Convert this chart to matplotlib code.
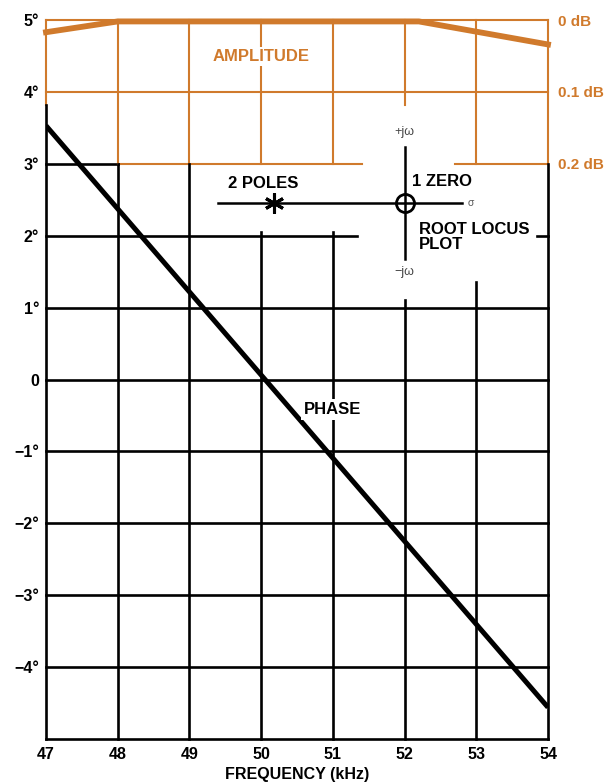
import matplotlib
matplotlib.use('Agg')
import matplotlib.pyplot as plt
import numpy as np

plt.rcParams['font.family'] = ['Liberation Sans', 'DejaVu Sans']

ORANGE = '#d07a2c'

#values
freq_ticks = [47, 48, 49, 50, 51, 52, 53, 54]
deg_ticks = [5, 4, 3, 2, 1, 0, -1, -2, -3, -4]
deg_labels = ['5°', '4°', '3°', '2°', '1°', '0', '\u22121°', '\u22122°', '\u22123°', '\u22124°']
db_ticks = [0, 0.1, 0.2]
db_labels = ['0 dB', '0.1 dB', '0.2 dB']

phase_freq = [47, 54]
phase_deg = [3.53, -4.56]

amp_freq = [47, 48, 52.2, 54]
amp_db = [0.017, 0.002, 0.002, 0.034]

pole_freq, zero_freq, sigma_deg = 50.18, 52.0, 2.46

fig = plt.figure(figsize=(6.1, 7.83), dpi=100)
ax = fig.add_axes([46/610, 1-739/783, 502/610, 719/783])
ax.set_xlim(47, 54)
ax.set_ylim(-5, 5)
for s in ax.spines.values():
    s.set_visible(False)

lw_k, lw_o = 1.9, 1.5
# horizontal grid (partly hidden behind the root locus sketch)
hsegs_o = [(5, 47, 54), (4, 47, 54), (3, 48, 51.4), (3, 52.7, 54)]
hsegs_k = [(3, 47, 48), (2, 47, 51.33), (2, 53.85, 54)] + [(d, 47, 54) for d in [1, 0, -1, -2, -3, -4, -5]]
for y, x0, x1 in hsegs_o:
    ax.plot([x0, x1], [y, y], color=ORANGE, lw=lw_o, clip_on=False, zorder=2)
for y, x0, x1 in hsegs_k:
    ax.plot([x0, x1], [y, y], color='black', lw=lw_k, clip_on=False, zorder=2)

# vertical grid
vtop_o = {47: 3.82, 48: 3, 49: 3, 50: 3, 51: 3, 52: 3.82, 53: 3, 54: 3}
vtop_k = {47: 3.82, 48: 3, 49: 3, 50: 2.05, 51: 2.05, 52: 1.1, 53: 1.36, 54: 3}
for f in freq_ticks:
    ax.plot([f, f], [vtop_o[f], 5], color=ORANGE, lw=lw_o, clip_on=False, zorder=2)
    ax.plot([f, f], [-5, vtop_k[f]], color='black', lw=lw_k, clip_on=False, zorder=2)

# phase line
ax.plot(phase_freq, phase_deg, color='black', lw=3.6, solid_capstyle='butt', zorder=4)

# amplitude on its own scale (0 dB at top)
ax2 = ax.twinx()
ax2.set_ylim(1.0, 0)
for s in ax2.spines.values():
    s.set_visible(False)
ax2.plot(amp_freq, amp_db, color=ORANGE, lw=4.2, clip_on=False, zorder=4)
ax2.set_yticks(db_ticks)
ax2.set_yticklabels(db_labels, color=ORANGE, fontsize=11, fontweight='bold')
ax2.tick_params(axis='y', length=0, pad=7)

ax.set_xticks(freq_ticks)
ax.set_xticklabels([str(f) for f in freq_ticks], fontsize=11.5, fontweight='bold')
ax.set_yticks(deg_ticks)
ax.set_yticklabels(deg_labels, fontsize=11.5, fontweight='bold')
ax.tick_params(length=0, pad=5)
ax.tick_params(axis='x', pad=6)
ax.set_xlabel('FREQUENCY (kHz)', fontsize=11.5, fontweight='bold', labelpad=3)

ax.text(50.0, 4.49, 'AMPLITUDE', color=ORANGE, fontsize=12, fontweight='bold',
        ha='center', va='center', zorder=5,
        bbox=dict(facecolor='white', edgecolor='none', pad=1.5))
ax.text(51.0, -0.42, 'PHASE', fontsize=12, fontweight='bold',
        ha='center', va='center', zorder=5,
        bbox=dict(facecolor='white', edgecolor='none', pad=2))

# root locus sketch
ax.plot([49.4, 52.8], [sigma_deg, sigma_deg], color='black', lw=1.8, zorder=5)
ax.plot([zero_freq, zero_freq], [1.67, 3.24], color='black', lw=1.8, zorder=5)
for ang in [0, 60, 120]:
    ax.plot([pole_freq], [sigma_deg], marker=(2, 2, ang), ms=14, mew=2.2, color='black', zorder=6)
ax.plot([zero_freq], [sigma_deg], marker='o', ms=13, mfc='none', mec='black', mew=2, zorder=6)
ax.text(52.93, sigma_deg, '\u03c3', fontsize=7.5, color='#555555', ha='center', va='center')
ax.text(zero_freq, 3.44, '+j\u03c9', fontsize=9, color='#444444', ha='center', va='center')
ax.text(zero_freq, 1.49, '\u2212j\u03c9', fontsize=9, color='#444444', ha='center', va='center')
ax.text(50.03, 2.72, '2 POLES', fontsize=12, fontweight='bold', ha='center', va='center')
ax.text(52.1, 2.76, '1 ZERO', fontsize=12, fontweight='bold', ha='left', va='center')
ax.text(52.2, 1.98, 'ROOT LOCUS\nPLOT', fontsize=12, fontweight='bold', ha='left', va='center',
        linespacing=1.0)

fig.savefig('out.png', dpi=100)
